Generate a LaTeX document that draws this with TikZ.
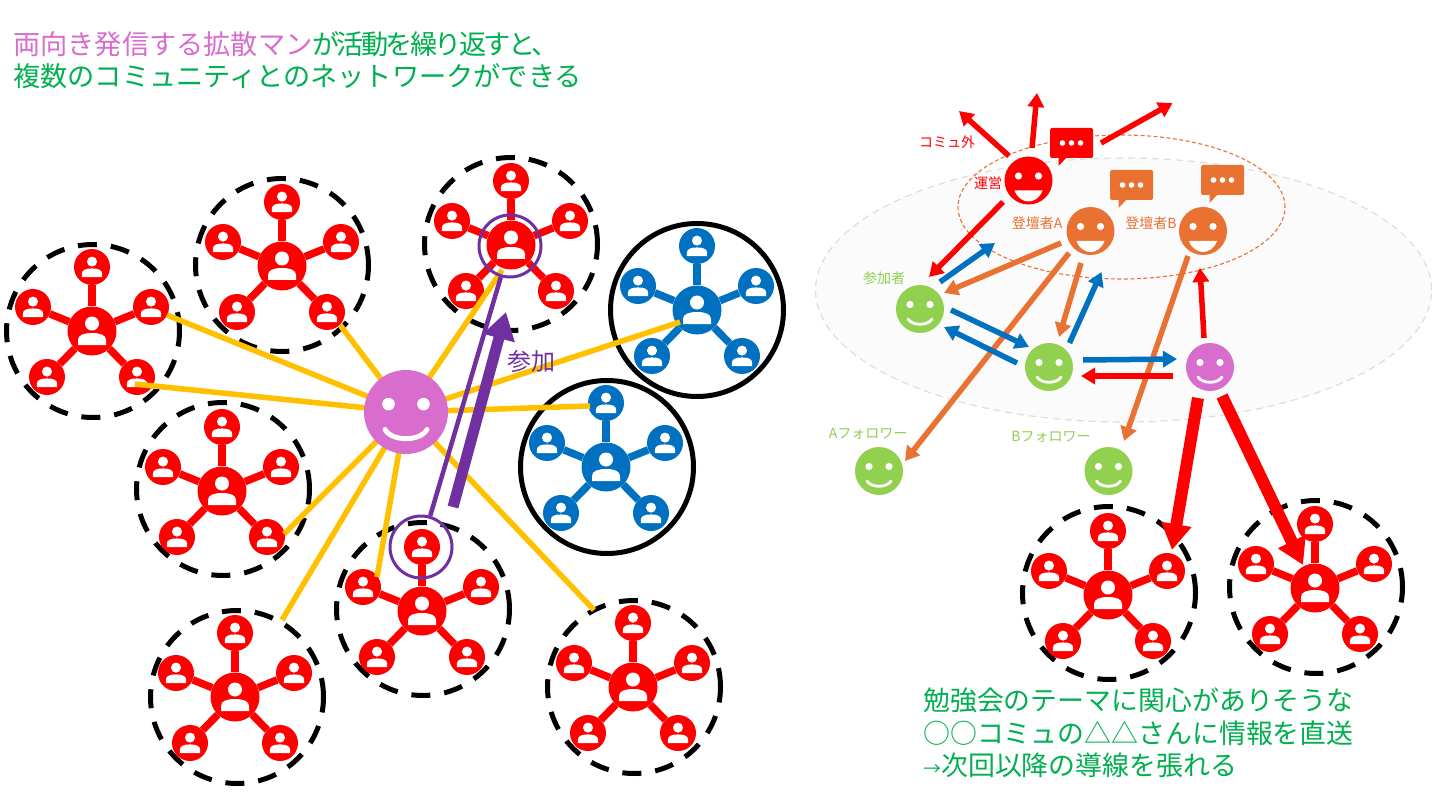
\documentclass[tikz,border=0pt]{standalone}
\usepackage{fontspec}
\setmainfont{Noto Sans CJK JP}
\usetikzlibrary{arrows.meta,calc,shapes.geometric}
\definecolor{cRed}{HTML}{FF0000}
\definecolor{cBlue}{HTML}{0070C0}
\definecolor{cOrange}{HTML}{E97132}
\definecolor{cLeaf}{HTML}{92D050}
\definecolor{cPink}{HTML}{D86DCD}
\definecolor{cGreen}{HTML}{00B050}
\definecolor{cYellow}{HTML}{FFC000}
\definecolor{cPurple}{HTML}{7030A0}
\tikzset{
  ringdash/.style={circle,draw=black,line width=5pt,dash pattern=on 19pt off 14pt,minimum size=173pt,inner sep=0pt},
  ringsolid/.style={circle,draw=black,line width=5pt,minimum size=173pt,inner sep=0pt},
  hubdisc/.style={circle,fill=#1,minimum size=49pt,inner sep=0pt},
  satdisc/.style={circle,fill=#1,minimum size=36pt,inner sep=0pt},
  spoke/.style={draw=#1,line width=7.5pt},
  ybar/.style={draw=cYellow,line width=5.5pt},
  thinarrow/.style={draw=#1,line width=5.5pt,-{Triangle[length=14pt,width=16pt]}},
  bigarrow/.style={draw=#1,line width=12pt,-{Triangle[length=26pt,width=29pt]}},
  smalllabel/.style={font=\fontsize{14}{16}\selectfont,inner sep=0pt},
  titletext/.style={font=\fontsize{#1}{32.5}\selectfont,align=left,inner sep=0pt,anchor=west,text=cGreen},
}
% person icon
\newcommand{\personicon}[3]{%
  \begin{scope}[shift={(#1,#2)},scale=#3]
    \fill[white] (0,-7.5) circle[radius=7];
    \fill[white] (-14,14) -- (-14,9) .. controls (-14,4) and (-8,2) .. (0,2)
       .. controls (8,2) and (14,4) .. (14,9) -- (14,14) -- cycle;
  \end{scope}}
% community glyph: name, x, y, colour, ring style, ring dx, ring dy
\newcommand{\commglyph}[7]{%
  \node[#5] (#1ring) at (#2+#6,#3+#7) {};
  \node[hubdisc=#4] (#1) at (#2,#3) {};
  \node[satdisc=#4] (#1a) at (#2,#3-64) {};
  \node[satdisc=#4] (#1b) at (#2-59,#3-24) {};
  \node[satdisc=#4] (#1c) at (#2+59,#3-24) {};
  \node[satdisc=#4] (#1d) at (#2-45,#3+46) {};
  \node[satdisc=#4] (#1e) at (#2+45,#3+46) {};
  \foreach \s in {a,b,c,d,e} {\draw[spoke=#4] (#1) -- (#1\s);}
  \personicon{#2}{#3}{1}
  \personicon{#2}{#3-64}{0.72}
  \personicon{#2-59}{#3-24}{0.72}
  \personicon{#2+59}{#3-24}{0.72}
  \personicon{#2-45}{#3+46}{0.72}
  \personicon{#2+45}{#3+46}{0.72}}
% smiley: name, x, y, radius, colour, mouth type (0 smile, 1 open)
\newcommand{\smiley}[6]{%
  \pgfmathsetmacro{\smf}{#4/24}
  \pgfmathsetmacro{\smw}{2.8*#4/24}
  \node[circle,fill=#5,minimum size=#4*2pt,inner sep=0pt] (#1) at (#2,#3) {};
  \begin{scope}[shift={(#2,#3)},scale=\smf]
    \fill[white] (-10,-4.5) circle[radius=3.6];
    \fill[white] (10,-4.5) circle[radius=3.6];
    \ifnum#6=1
      \fill[white] (-14,10) -- (14,10) .. controls (11,18) and (5,21) .. (0,21) .. controls (-5,21) and (-11,18) .. (-14,10) -- cycle;
    \else
      \draw[white,line width=\smw pt,line cap=round] (-12,10) .. controls (-8,17) and (8,17) .. (12,10);
    \fi
  \end{scope}}
% speech bubble: name, x, y, colour
\newcommand{\speech}[4]{%
  \node[fill=#4,minimum width=43pt,minimum height=30pt,inner sep=0pt,rounded corners=1.5pt] (#1) at (#2+21.5,#3+15) {};
  \fill[#4] (#2+8.5,#3+29) -- (#2+8.5,#3+38) -- (#2+17,#3+29) -- cycle;
  \fill[white] (#2+12.5,#3+15) circle[radius=2.8];
  \fill[white] (#2+21.5,#3+15) circle[radius=2.8];
  \fill[white] (#2+30.5,#3+15) circle[radius=2.8];}
\begin{document}
\begin{tikzpicture}[x=1pt,y=-1pt]
\useasboundingbox (0,0) rectangle (1440,810);
\fill[white] (0,0) rectangle (1440,810);

% title
\node[titletext=27.2] (title) at (13,60) {{\color{cPink}両向き発信する拡散マン}{\addfontfeature{LetterSpace=-10}が活動を繰り返すと、}\\複数のコミュニティとのネットワークができる};

% left communities
\commglyph{ca}{92}{331}{cRed}{ringdash}{1}{0}
\commglyph{cb}{282}{266}{cRed}{ringdash}{0}{-1}
\commglyph{cc}{511}{245}{cRed}{ringdash}{0}{-1}
\commglyph{cd}{697}{310}{cBlue}{ringsolid}{0}{0}
\commglyph{ce}{222}{491}{cRed}{ringdash}{1}{-2}
\commglyph{cf}{606}{467}{cBlue}{ringsolid}{1}{0}
\commglyph{cg}{422}{611}{cRed}{ringdash}{1}{-2}
\commglyph{ch}{235}{697}{cRed}{ringdash}{2}{0}
\commglyph{ci}{633}{687}{cRed}{ringdash}{1}{0}

% hub
\coordinate (ya) at (167,315);
\coordinate (yb) at (135,384);
\coordinate (yc) at (340,325);
\coordinate (yd) at (284,534);
\coordinate (ye) at (282,620);
\coordinate (yf) at (377,577);
\coordinate (yg) at (594,610);
\coordinate (yh) at (590,406);
\coordinate (yi) at (680,322);
\coordinate (yj) at (502,270);
\node[circle,minimum size=84pt,inner sep=0pt] (hub) at (406,412) {};
\foreach \e in {ya,yb,yc,yd,ye,yf,yg,yh,yi,yj} {\draw[ybar] (hub.center) -- (\e);}
\smiley{hubface}{406}{412}{42}{cPink}{0}

% purple
\node[circle,draw=cPurple,line width=3pt,minimum size=62pt,inner sep=0pt] (pa) at (510,246) {};
\node[circle,draw=cPurple,line width=3pt,minimum size=62pt,inner sep=0pt] (pb) at (421,547) {};
\draw[cPurple,line width=4.5pt] (pb) -- (pa);
\coordinate (joinfoot) at (453,507);
\coordinate (jointip) at (506,312);
\draw[cPurple,line width=11pt,-{Triangle[length=27pt,width=31pt]}] (joinfoot) -- (jointip);
\node[font=\fontsize{24}{26}\selectfont,text=cPurple,inner sep=0pt] (joinlabel) at (531,361) {参加};

% right: ellipses
\node[ellipse,draw=black!13,fill=black!1.5,dash pattern=on 7pt off 5pt,line width=1.2pt,minimum width=616pt,minimum height=264pt,inner sep=0pt] (room) at (1123.5,290) {};
\node[ellipse,draw=cOrange,dash pattern=on 4pt off 2.5pt,line width=1.1pt,minimum width=327pt,minimum height=144pt,inner sep=0pt] (stage) at (1121.5,207) {};

% right: communities
\commglyph{cj}{1108}{595}{cRed}{ringdash}{1}{-2}
\commglyph{ck}{1315}{588}{cRed}{ringdash}{1}{-1}

% right: faces
\smiley{fa}{1028.5}{180.5}{24}{cRed}{1}
\smiley{fb}{1090.5}{231}{24}{cOrange}{1}
\smiley{fc}{1203}{231}{24}{cOrange}{1}
\smiley{fd}{920}{309}{24}{cLeaf}{0}
\smiley{fe}{1049}{367}{24}{cLeaf}{0}
\smiley{ff}{1210}{367}{24}{cPink}{0}
\smiley{fg}{879}{471}{24}{cLeaf}{0}
\smiley{fh}{1108.5}{471}{24}{cLeaf}{0}

% bubbles
\speech{sa}{1050}{128}{cRed}
\speech{sb}{1110}{170}{cOrange}
\speech{sc}{1201}{165}{cOrange}

% labels
\node[smalllabel,text=cRed] (la) at (947,142) {コミュ外};
\node[smalllabel,text=cRed] (lb) at (988,183) {運営};
\node[smalllabel,text=cOrange] (lc) at (1037,223) {登壇者A};
\node[smalllabel,text=cOrange] (ld) at (1151,223) {登壇者B};
\node[smalllabel,text=cLeaf] (le) at (884,278) {参加者};
\node[smalllabel,text=cLeaf] (lf) at (868,434) {Aフォロワー};
\node[smalllabel,text=cLeaf] (lg) at (1051,437) {Bフォロワー};

% orange arrows
\draw[thinarrow=cOrange] ($(fb)+(-29.5,12)$) -- ($(fd)+(24,-16)$);
\draw[thinarrow=cOrange] ($(fb)+(-21.5,22)$) -- ($(fg)+(26,-10)$);
\draw[thinarrow=cOrange] ($(fb)+(-9.5,32)$) -- ($(fe)+(10,-30)$);
\draw[thinarrow=cOrange] ($(fc)+(-15,25)$) -- ($(fh)+(15.5,-30)$);

% blue arrows
\draw[thinarrow=cBlue] ($(fd)+(20,-27)$) -- ($(fb)+(-95.5,12)$);
\draw[thinarrow=cBlue] ($(fd)+(31,1)$) -- ($(fe)+(-20,-20)$);
\draw[thinarrow=cBlue] ($(fe)+(-32,-4)$) -- ($(fd)+(24,18)$);
\draw[thinarrow=cBlue] ($(fe)+(20.5,-24)$) -- ($(fb)+(11,41)$);
\draw[thinarrow=cBlue] ($(fe)+(34,-7)$) -- ($(ff)+(-33,-8)$);

% red arrows
\coordinate (outa) at (959,111);
\coordinate (outb) at (1037,93);
\coordinate (outc) at (1172.5,103);
\draw[thinarrow=cRed] ($(fa)+(-19.5,-24.5)$) -- (outa);
\draw[thinarrow=cRed] ($(fa)+(3.5,-32.5)$) -- (outb);
\draw[thinarrow=cRed] ($(fa)+(72.5,-37.5)$) -- (outc);
\draw[thinarrow=cRed] ($(fa)+(-25.5,21.5)$) -- ($(fd)+(9,-32)$);
\draw[thinarrow=cRed] ($(ff)+(-6,-29)$) -- ($(fc)+(-3,37)$);
\draw[thinarrow=cRed] ($(ff)+(-37,9)$) -- ($(fe)+(32,9)$);
\draw[bigarrow=cRed] ($(ff)+(-12,31)$) -- ($(cj)+(64,-45)$);
\draw[bigarrow=cRed] ($(ff)+(12,29)$) -- ($(ck)+(-12,-23)$);

% bottom note
\node[titletext=26.9] (note) at (923,733) {勉強会のテーマに関心がありそうな\\○○コミュの△△さんに情報を直送\\{\fontsize{18}{18}\selectfont →}次回以降の導線を張れる};
\end{tikzpicture}
\end{document}
